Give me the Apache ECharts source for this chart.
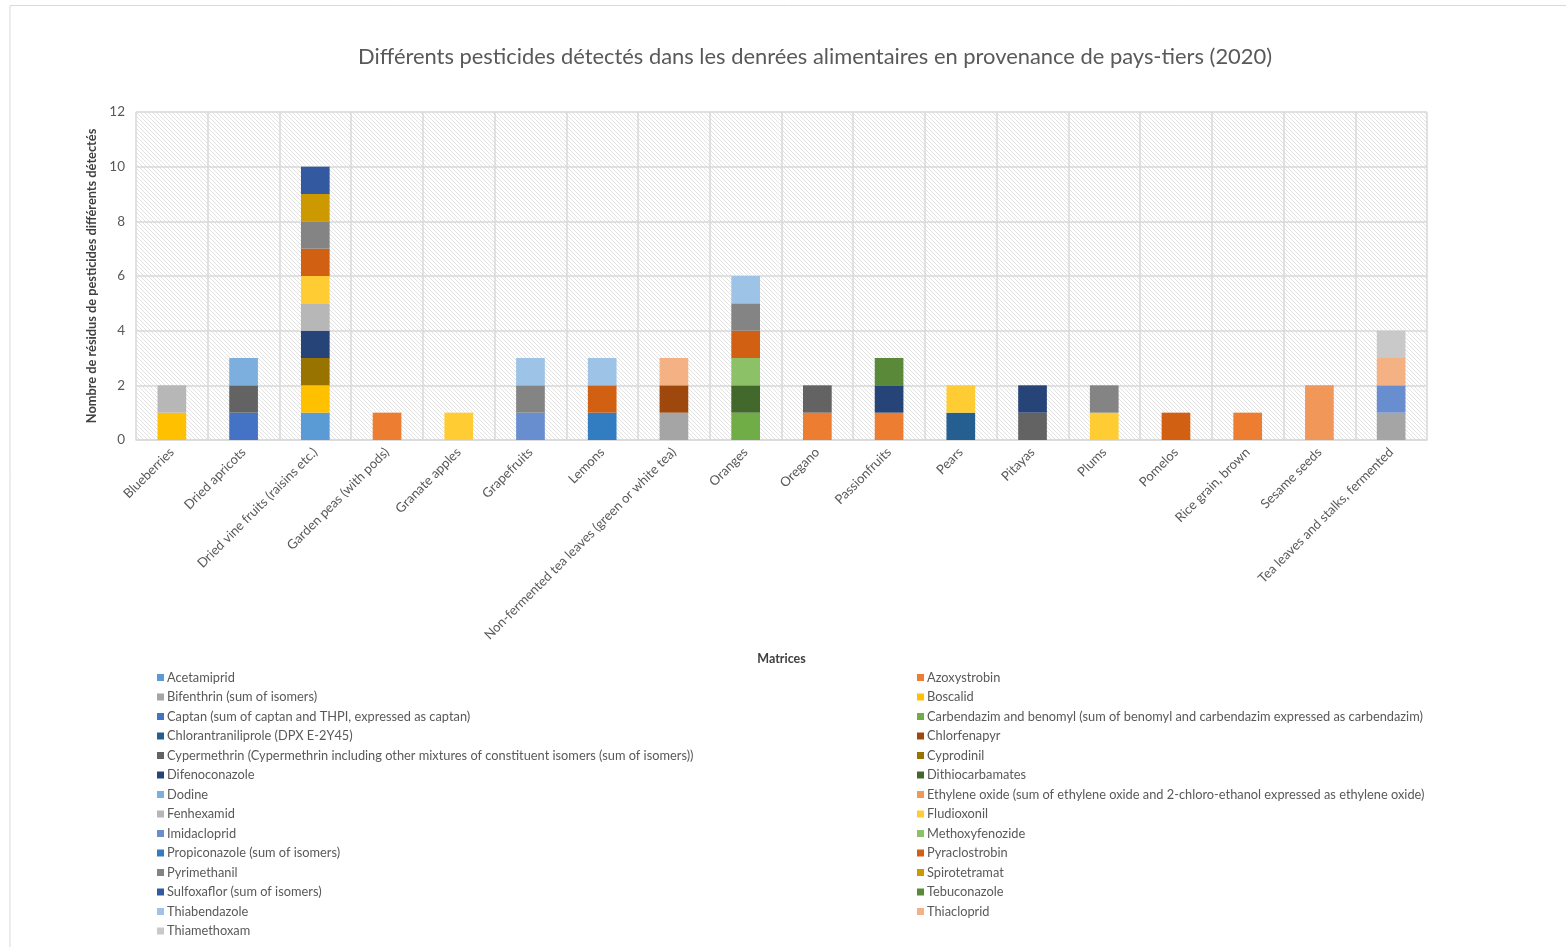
<!DOCTYPE html>
<html><head><meta charset="utf-8">
<script src="https://cdn.jsdelivr.net/npm/echarts@6/dist/echarts.min.js"></script>
<style>html,body{margin:0;padding:0;background:#fff}#c{width:1566px;height:947px}</style>
</head><body><div id="c"></div>
<script>
const categories = ["Blueberries","Dried apricots","Dried vine fruits (raisins etc.)","Garden peas (with pods)","Granate apples","Grapefruits","Lemons","Non-fermented tea leaves (green or white tea)","Oranges","Oregano","Passionfruits","Pears","Pitayas","Plums","Pomelos","Rice grain, brown","Sesame seeds","Tea leaves and stalks, fermented"];
const yTicks = [0,2,4,6,8,10,12];
const seriesNames = ["Acetamiprid","Azoxystrobin","Bifenthrin (sum of isomers)","Boscalid","Captan (sum of captan and THPI, expressed as captan)","Carbendazim and benomyl (sum of benomyl and carbendazim expressed as carbendazim)","Chlorantraniliprole (DPX E-2Y45)","Chlorfenapyr","Cypermethrin (Cypermethrin including other mixtures of constituent isomers (sum of isomers))","Cyprodinil","Difenoconazole","Dithiocarbamates","Dodine","Ethylene oxide (sum of ethylene oxide and 2-chloro-ethanol expressed as ethylene oxide)","Fenhexamid","Fludioxonil","Imidacloprid","Methoxyfenozide","Propiconazole (sum of isomers)","Pyraclostrobin","Pyrimethanil","Spirotetramat","Sulfoxaflor (sum of isomers)","Tebuconazole","Thiabendazole","Thiacloprid","Thiamethoxam"];
//                       Bl Da Dv Gp Ga Gf Le Nt Or Og Pf Pe Pi Pl Po Ri Se Tf
const acetamiprid       = [0, 0, 1, 0, 0, 0, 0, 0, 0, 0, 0, 0, 0, 0, 0, 0, 0, 0];
const azoxystrobin      = [0, 0, 0, 1, 0, 0, 0, 0, 0, 1, 1, 0, 0, 0, 0, 1, 0, 0];
const bifenthrin        = [0, 0, 0, 0, 0, 0, 0, 1, 0, 0, 0, 0, 0, 0, 0, 0, 0, 1];
const boscalid          = [1, 0, 1, 0, 0, 0, 0, 0, 0, 0, 0, 0, 0, 0, 0, 0, 0, 0];
const captan            = [0, 1, 0, 0, 0, 0, 0, 0, 0, 0, 0, 0, 0, 0, 0, 0, 0, 0];
const carbendazim       = [0, 0, 0, 0, 0, 0, 0, 0, 1, 0, 0, 0, 0, 0, 0, 0, 0, 0];
const chlorantraniliprole=[0, 0, 0, 0, 0, 0, 0, 0, 0, 0, 0, 1, 0, 0, 0, 0, 0, 0];
const chlorfenapyr      = [0, 0, 0, 0, 0, 0, 0, 1, 0, 0, 0, 0, 0, 0, 0, 0, 0, 0];
const cypermethrin      = [0, 1, 0, 0, 0, 0, 0, 0, 0, 1, 0, 0, 1, 0, 0, 0, 0, 0];
const cyprodinil        = [0, 0, 1, 0, 0, 0, 0, 0, 0, 0, 0, 0, 0, 0, 0, 0, 0, 0];
const difenoconazole    = [0, 0, 1, 0, 0, 0, 0, 0, 0, 0, 1, 0, 1, 0, 0, 0, 0, 0];
const dithiocarbamates  = [0, 0, 0, 0, 0, 0, 0, 0, 1, 0, 0, 0, 0, 0, 0, 0, 0, 0];
const dodine            = [0, 1, 0, 0, 0, 0, 0, 0, 0, 0, 0, 0, 0, 0, 0, 0, 0, 0];
const ethyleneOxide     = [0, 0, 0, 0, 0, 0, 0, 0, 0, 0, 0, 0, 0, 0, 0, 0, 2, 0];
const fenhexamid        = [1, 0, 1, 0, 0, 0, 0, 0, 0, 0, 0, 0, 0, 0, 0, 0, 0, 0];
const fludioxonil       = [0, 0, 1, 0, 1, 0, 0, 0, 0, 0, 0, 1, 0, 1, 0, 0, 0, 0];
const imidacloprid      = [0, 0, 0, 0, 0, 1, 0, 0, 0, 0, 0, 0, 0, 0, 0, 0, 0, 1];
const methoxyfenozide   = [0, 0, 0, 0, 0, 0, 0, 0, 1, 0, 0, 0, 0, 0, 0, 0, 0, 0];
const propiconazole     = [0, 0, 0, 0, 0, 0, 1, 0, 0, 0, 0, 0, 0, 0, 0, 0, 0, 0];
const pyraclostrobin    = [0, 0, 1, 0, 0, 0, 1, 0, 1, 0, 0, 0, 0, 0, 1, 0, 0, 0];
const pyrimethanil      = [0, 0, 1, 0, 0, 1, 0, 0, 1, 0, 0, 0, 0, 1, 0, 0, 0, 0];
const spirotetramat     = [0, 0, 1, 0, 0, 0, 0, 0, 0, 0, 0, 0, 0, 0, 0, 0, 0, 0];
const sulfoxaflor       = [0, 0, 1, 0, 0, 0, 0, 0, 0, 0, 0, 0, 0, 0, 0, 0, 0, 0];
const tebuconazole      = [0, 0, 0, 0, 0, 0, 0, 0, 0, 0, 1, 0, 0, 0, 0, 0, 0, 0];
const thiabendazole     = [0, 0, 0, 0, 0, 1, 1, 0, 1, 0, 0, 0, 0, 0, 0, 0, 0, 0];
const thiacloprid       = [0, 0, 0, 0, 0, 0, 0, 1, 0, 0, 0, 0, 0, 0, 0, 0, 0, 1];
const thiamethoxam      = [0, 0, 0, 0, 0, 0, 0, 0, 0, 0, 0, 0, 0, 0, 0, 0, 0, 1];

const seriesValues = [acetamiprid,azoxystrobin,bifenthrin,boscalid,captan,carbendazim,chlorantraniliprole,chlorfenapyr,cypermethrin,cyprodinil,difenoconazole,dithiocarbamates,dodine,ethyleneOxide,fenhexamid,fludioxonil,imidacloprid,methoxyfenozide,propiconazole,pyraclostrobin,pyrimethanil,spirotetramat,sulfoxaflor,tebuconazole,thiabendazole,thiacloprid,thiamethoxam];

const palette = ["#5B9BD5","#ED7D31","#A5A5A5","#FFC000","#4472C4","#70AD47","#255E91","#9E480E","#636363","#997300","#264478","#43682B","#7CAFDD","#F1975A","#B7B7B7","#FFCD33","#698ED0","#8CC168","#327DC2","#D26012","#848484","#CC9A00","#335AA1","#5A8A39","#9DC3E6","#F4B183","#C9C9C9"];

// hatch pattern
const pc = document.createElement('canvas');
pc.width = 4; pc.height = 4;
const pctx = pc.getContext('2d');
pctx.fillStyle = '#ffffff'; pctx.fillRect(0,0,4,4);
pctx.strokeStyle = '#e2e2e2'; pctx.lineWidth = 1;
pctx.beginPath(); pctx.moveTo(-1,-1); pctx.lineTo(5,5); pctx.stroke();
pctx.beginPath(); pctx.moveTo(-1,3); pctx.lineTo(1,5); pctx.stroke();
pctx.beginPath(); pctx.moveTo(3,-1); pctx.lineTo(5,1); pctx.stroke();

const font = 'Lato, "Open Sans", sans-serif';
const chart = echarts.init(document.getElementById('c'));
const legendText = {color:'#595959', fontSize:12.8, fontFamily:font, lineHeight:15, padding:[0,0,0,-2]};
chart.setOption({
  animation:false,
  color: palette,
  title:{text:"Différents pesticides détectés dans les denrées alimentaires en provenance de pays-tiers (2020)",
    left:358, top:46, padding:0, textStyle:{color:'#595959', fontSize:21.9, fontWeight:'normal', fontFamily:font}},
  graphic:[{type:'polyline', shape:{points:[[10,950],[10,5.5],[1570,5.5]]}, style:{stroke:'#d9d9d9', lineWidth:1, fill:null}, silent:true}],
  grid:{left:136, right:139, top:112, bottom:507, show:true, borderWidth:0, backgroundColor:{image:pc, repeat:'repeat'}},
  legend:[
    {orient:'vertical', left:157, top:670, padding:0, height:300, itemWidth:7, itemHeight:7, itemGap:4.5, icon:'rect', textStyle:legendText,
      data: seriesNames.filter((n,i)=>i%2===0)},
    {orient:'vertical', left:917, top:670, padding:0, height:300, itemWidth:7, itemHeight:7, itemGap:4.5, icon:'rect', textStyle:legendText,
      data: seriesNames.filter((n,i)=>i%2===1)}
  ],
  xAxis:{type:'category', data:categories, name:'Matrices', nameLocation:'middle', nameGap:212,
    nameTextStyle:{color:'#404040', fontWeight:'bold', fontSize:12.5, fontFamily:font},
    axisLine:{show:true, lineStyle:{color:'#d9d9d9', width:1.5}}, axisTick:{show:false},
    splitLine:{show:true, lineStyle:{color:'#d9d9d9', width:1.5}},
    axisLabel:{rotate:45, color:'#595959', fontSize:13.1, fontFamily:font, interval:0, margin:10}},
  yAxis:{type:'value', min:0, max:12, interval:2, name:'Nombre de résidus de pesticides différents détectés',
    nameLocation:'middle', nameGap:33, nameRotate:90,
    nameTextStyle:{color:'#404040', fontWeight:'bold', fontSize:12.8, fontFamily:font},
    axisLine:{show:false}, axisTick:{show:false},
    splitLine:{show:true, lineStyle:{color:'#d9d9d9', width:1.5}},
    axisLabel:{color:'#595959', fontSize:13.5, fontFamily:font, margin:11,
      formatter:(v)=> yTicks.includes(v) ? String(v) : ''}},
  series: seriesNames.map((n,i)=>({name:n, type:'bar', stack:'total', barWidth:'40%', data:seriesValues[i]}))
});
</script></body></html>
